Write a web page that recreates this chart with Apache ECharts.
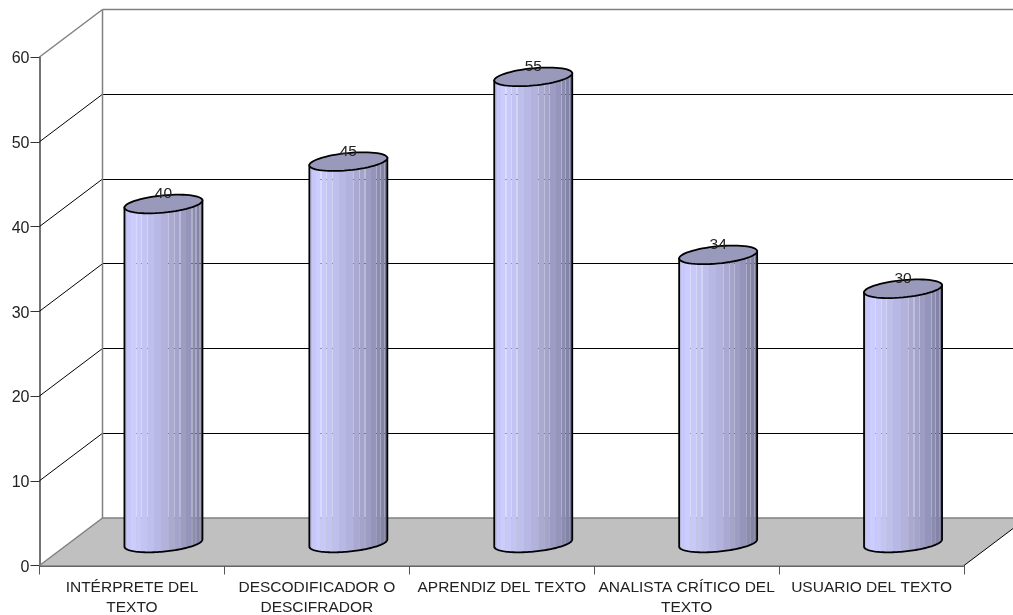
<!DOCTYPE html>
<html>
<head>
<meta charset="utf-8">
<style>html,body{margin:0;padding:0;background:#fff}#c{width:1013px;height:615px}</style>
<script src="https://cdn.jsdelivr.net/npm/echarts@6/dist/echarts.min.js"></script>
</head>
<body>
<div id="c"></div>
<script>
const categories = ['INTÉRPRETE DEL\nTEXTO', 'DESCODIFICADOR O\nDESCIFRADOR', 'APRENDIZ DEL TEXTO', 'ANALISTA CRÍTICO DEL\nTEXTO', 'USUARIO DEL TEXTO'];
const values = [40, 45, 55, 34, 30];
const wallTicks = [10, 20, 30, 40, 50];
const yMax = 60;

// Oblique projection of the 3D box, in pixels
const depthX = 63, depthY = -47.5;
const barDepthX = 31.5, barDepthY = -22.5;
const barWidth = 78, tiltY = 3.6, radiusY = 8.6;
const fontFamily = '"Liberation Sans", Arial, sans-serif';

// Facet shading across the cylinder, [start offset, colour]; the thin translucent facets let the wall show through
const facets = [
  [0, '#bcbce8'], [0.04, '#c8c8f8'], [0.09, '#ccccff'], [0.15, 'rgba(204,204,255,0.72)'], [0.165, '#c9c9f9'],
  [0.22, 'rgba(198,198,246,0.72)'], [0.235, '#c4c4f2'], [0.29, 'rgba(194,194,240,0.72)'], [0.305, '#bfbfec'],
  [0.38, '#b8b8e4'], [0.47, '#b2b2dc'], [0.56, 'rgba(172,172,212,0.72)'], [0.575, '#a9a9d2'],
  [0.63, 'rgba(166,166,206,0.72)'], [0.645, '#a3a3cb'], [0.70, 'rgba(160,160,200,0.72)'], [0.715, '#9d9dc4'],
  [0.78, '#9595bb'], [0.85, 'rgba(144,144,180,0.72)'], [0.865, '#8c8cb0'], [0.90, 'rgba(136,136,172,0.72)'],
  [0.915, '#8484a6'], [0.95, 'rgba(128,128,160,0.72)'], [0.965, '#78789a'], [1, '#6e6e8e']
];

const chart = echarts.init(document.getElementById('c'));

function facetFill() {
  const stops = [];
  facets.forEach((f, i) => {
    const end = i + 1 < facets.length ? facets[i + 1][0] : 1;
    stops.push({ offset: f[0], color: f[1] }, { offset: end, color: f[1] });
  });
  return new echarts.graphic.LinearGradient(0, 0, 1, 0, stops);
}

function ringPoint(cx, cy, t) {
  const rx = barWidth / 2;
  return [cx + rx * Math.cos(t), cy + radiusY * Math.sin(t) - tiltY * Math.cos(t)];
}
function ellipseArc(cx, cy, from, to) {
  const pts = [];
  for (let i = 0; i <= 60; i++) pts.push(ringPoint(cx, cy, from + (to - from) * i / 60));
  return pts;
}
const crisp = y => Math.floor(y) + 0.5;

// Floor and back/side walls, placed from the axis scales
function renderBox(params, api) {
  const left = api.coord([0, 0])[0] - api.size([1, 0])[0] / 2;
  const right = left + api.size([1, 0])[0] * categories.length;
  const y0 = api.coord([0, 0])[1];
  const yTop = api.coord([0, yMax])[1];
  const line = (x1, y1, x2, y2, stroke, w) => ({
    type: 'line',
    shape: { x1, y1, x2, y2 },
    style: { stroke, lineWidth: w || 1, fill: null }
  });
  const children = [{
    type: 'polygon',
    shape: { points: [[left, y0], [right, y0], [right + depthX, y0 + depthY], [left + depthX, y0 + depthY]] },
    style: { fill: '#c0c0c0' }
  }];
  wallTicks.forEach(v => {
    const y = api.coord([0, v])[1];
    children.push(line(left, y, left + depthX, y + depthY, '#000'));
    const back = crisp(y + depthY);
    children.push(line(left + depthX, back, right + depthX, back, '#000'));
  });
  children.push(line(left, y0, left + depthX, y0 + depthY, '#808080', 1.5));
  children.push(line(left + depthX, y0 + depthY, right + depthX, y0 + depthY, '#808080', 1.5));
  children.push(line(left, yTop, left + depthX, yTop + depthY, '#808080', 1.5));
  children.push(line(left + depthX, yTop + depthY, right + depthX, yTop + depthY, '#808080', 1.5));
  children.push(line(left + depthX, y0 + depthY, left + depthX, yTop + depthY, '#808080', 1.5));
  children.push(line(right, y0, right + depthX, y0 + depthY, '#000'));
  return { type: 'group', children };
}

// One cylinder per category, base on the floor plane and height from the value axis
function renderCylinder(params, api) {
  const idx = api.value(0), val = api.value(1);
  const base = api.coord([idx, 0]);
  const top = api.coord([idx, val]);
  const cx = base[0] + barDepthX;
  const yb = base[1] + barDepthY, yt = top[1] + barDepthY;
  const outline = [ringPoint(cx, yt, Math.PI)].concat(ellipseArc(cx, yb, Math.PI, 0), [ringPoint(cx, yt, 0)]);
  return {
    type: 'group',
    children: [
      {
        type: 'polygon',
        shape: { points: outline },
        style: { fill: facetFill(), stroke: '#000', lineWidth: 1.8 }
      },
      {
        type: 'polygon',
        shape: { points: ellipseArc(cx, yt, 0, Math.PI * 2) },
        style: { fill: '#9999bb', stroke: '#000', lineWidth: 1.8 }
      },
      {
        type: 'text',
        style: {
          text: String(val), x: cx, y: yt - 10,
          align: 'center', verticalAlign: 'middle',
          fill: '#222', font: '15.5px ' + fontFamily
        }
      }
    ]
  };
}

chart.setOption({
  animation: false,
  backgroundColor: '#fff',
  grid: { left: 39.5, right: 49, top: 57, bottom: 49.5, containLabel: false, outerBoundsMode: 'none' },
  xAxis: {
    type: 'category',
    data: categories,
    boundaryGap: true,
    axisLine: { lineStyle: { color: '#333', width: 1.5 } },
    axisTick: { show: true, length: 9, alignWithLabel: false, lineStyle: { color: '#555', width: 1 } },
    axisLabel: { interval: 0, margin: 12, lineHeight: 20, color: '#222', fontFamily, fontSize: 15.5 },
    splitLine: { show: false }
  },
  yAxis: {
    type: 'value',
    min: 0, max: yMax, interval: 10,
    axisLine: { show: true, lineStyle: { color: '#444', width: 1.5 } },
    axisTick: { show: true, length: 9, lineStyle: { color: '#333', width: 1 } },
    axisLabel: {
      margin: 10,
      formatter: '{n|{value}}',
      rich: { n: { padding: [4, 0, 0, 0], color: '#222', fontFamily, fontSize: 16 } }
    },
    splitLine: { show: false }
  },
  series: [
    { type: 'custom', silent: true, z: 1, clip: false, renderItem: renderBox, data: [[0, 0]], encode: { x: 0, y: 1 } },
    { type: 'custom', silent: true, z: 3, clip: false, renderItem: renderCylinder, data: values.map((v, i) => [i, v]), encode: { x: 0, y: 1 } }
  ]
});
</script>
</body>
</html>
